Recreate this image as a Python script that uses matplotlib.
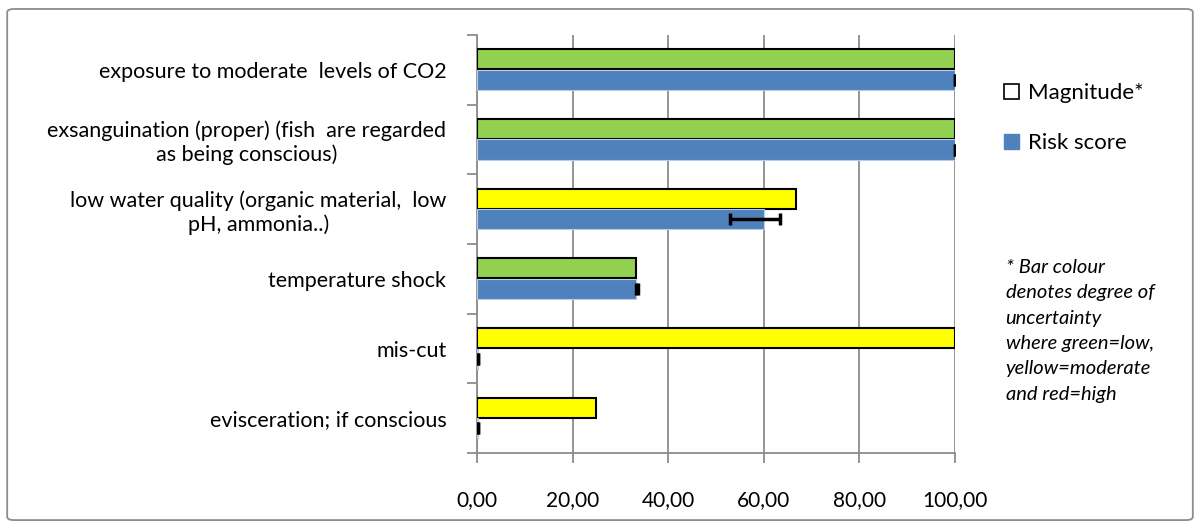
import numpy as np
import matplotlib.pyplot as plt
from matplotlib.patches import Patch, FancyBboxPatch

plt.rcParams['font.family'] = ['Lato', 'DejaVu Sans']

categories = ['exposure to moderate  levels of CO2',
              'exsanguination (proper) (fish  are regarded\nas being conscious)',
              'low water quality (organic material,  low\npH, ammonia..)',
              'temperature shock',
              'mis-cut',
              'evisceration; if conscious']
magnitude = [100, 100, 66.7, 33.3, 100, 25]
mag_colors = ['#92D050', '#92D050', '#FFFF00', '#92D050', '#FFFF00', '#FFFF00']
risk = [100, 100, 60, 33.3, 0.3, 0.3]
risk_err_low = [0, 0, 7, 0, 0, 0]
risk_err_high = [0, 0, 3.3, 0.3, 0, 0]
xticks = [0, 20, 40, 60, 80, 100]

fig = plt.figure(figsize=(12, 5.28), dpi=100)
ax = fig.add_axes([0.3975, 0.142, 0.3983, 0.7918])

y = np.arange(len(categories))[::-1]
h = 0.29

# Magnitude bars (colour = uncertainty)
ax.barh(y + h / 2 + 0.005, magnitude, height=h, color=mag_colors,
        edgecolor='black', linewidth=1.5, zorder=3)
# Risk score bars with error bars
ax.barh(y - h / 2, risk, height=h, color='#4F81BD', edgecolor='#B9CDE5',
        linewidth=0.8, zorder=3)
ax.errorbar(risk, y - h / 2, xerr=[risk_err_low, risk_err_high],
            fmt='none', ecolor='black', elinewidth=2.5, capsize=4,
            capthick=2.5, zorder=4)

ax.set_xlim(0, 100)
ax.set_ylim(-0.5, len(categories) - 0.5)
ax.set_xticks(xticks)
ax.set_xticklabels([('%.2f' % v).replace('.', ',') for v in xticks])
ax.xaxis.grid(True, color='#8C8C8C', linewidth=1.3, zorder=0)
ax.set_yticks(np.arange(len(categories) + 1) - 0.5, minor=True)
ax.set_yticks(y)
ax.set_yticklabels(categories, multialignment='center')
ax.tick_params(axis='y', which='major', length=0, pad=22, labelsize=15.5)
ax.tick_params(axis='y', which='minor', length=7, color='#8C8C8C', width=1.3)
ax.tick_params(axis='x', length=7, color='#8C8C8C', width=1.3, pad=20, labelsize=15)
for side in ['top', 'right']:
    ax.spines[side].set_visible(False)
for side in ['left', 'bottom']:
    ax.spines[side].set_color('#8C8C8C')
    ax.spines[side].set_linewidth(1.3)

handles = [Patch(facecolor='white', edgecolor='black', linewidth=1.2, label='Magnitude*'),
           Patch(facecolor='#4F81BD', edgecolor='#4F81BD', label='Risk score')]
fig.legend(handles=handles, loc='upper left', bbox_to_anchor=(0.837, 0.843),
           frameon=False, fontsize=16, handlelength=0.65, handleheight=0.65,
           handletextpad=0.4, labelspacing=1.35, borderpad=0, borderaxespad=0)

note = ('* Bar colour\ndenotes degree of\nuncertainty\nwhere green=low,\n'
        'yellow=moderate\nand red=high')
fig.text(0.838, 0.51, note, fontsize=14.5, style='italic', va='top',
         ha='left', linespacing=1.6)

border = FancyBboxPatch((0.006, 0.015), 0.988, 0.968, transform=fig.transFigure,
                        boxstyle='round,pad=0,rounding_size=0.006',
                        facecolor='none', edgecolor='#8C8C8C', linewidth=1.3)
fig.patches.append(border)

fig.savefig('out.png', dpi=100)
